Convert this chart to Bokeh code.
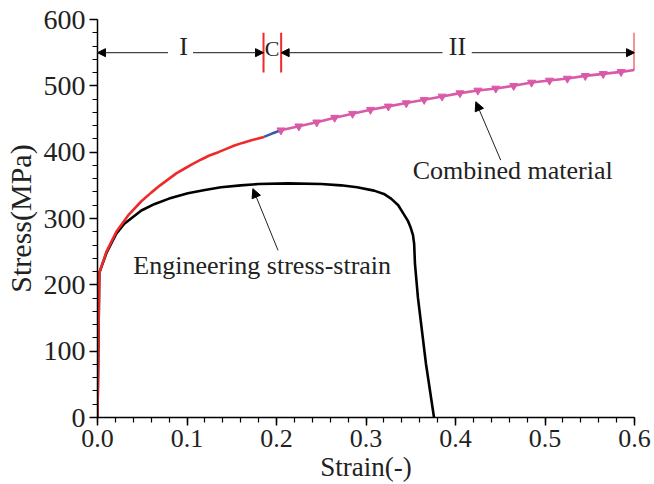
from bokeh.plotting import figure
from bokeh.models import Range1d, FixedTicker, PrintfTickFormatter, Label, Arrow, NormalHead
from bokeh.embed import file_html
from bokeh.resources import INLINE

# ---- data ----
eng_strain = [0, 0.002, 0.01, 0.021, 0.03, 0.049, 0.064, 0.08, 0.101, 0.12, 0.138, 0.16, 0.18,
              0.213, 0.25, 0.272, 0.29, 0.309, 0.32, 0.328, 0.336, 0.342, 0.347, 0.350, 0.3525,
              0.3538, 0.3547, 0.358, 0.367, 0.376]
eng_stress = [0, 218, 248, 277, 292, 312, 322, 330, 338, 343, 347, 350, 352,
              353, 352, 350, 347, 342, 337, 330, 320, 307, 296, 286, 275,
              262, 232, 181, 81, 0]

red_strain = [0, 0.002, 0.01, 0.021, 0.035, 0.049, 0.06, 0.07, 0.079, 0.088, 0.097, 0.106,
              0.116, 0.125, 0.135, 0.144, 0.153, 0.162, 0.172, 0.186]
red_stress = [0, 218, 250, 280, 306, 326, 339, 350, 359, 368, 375, 382,
              389, 395, 400, 405, 410, 414, 418, 423]

blue_strain = [0.186, 0.195, 0.205]
blue_stress = [423, 428, 433]

pink_strain = [0.205, 0.225, 0.245, 0.265, 0.285, 0.305, 0.325, 0.345, 0.365, 0.385,
               0.405, 0.425, 0.445, 0.465, 0.485, 0.505, 0.525, 0.545, 0.565, 0.585, 0.6]
pink_stress = [433, 439, 445, 452, 458, 464, 469, 474, 479, 484,
               489, 493, 496, 500, 505, 508, 511, 515, 518, 521, 524]
marker_strain = pink_strain[:-1]
marker_stress = pink_stress[:-1]

x_ticks = [0.0, 0.1, 0.2, 0.3, 0.4, 0.5, 0.6]
x_minor = [round(0.02 * i, 2) for i in range(31)]
y_ticks = [0, 100, 200, 300, 400, 500, 600]
y_minor = [20 * i for i in range(31)]

region_bounds = [0.0, 0.1855, 0.2052, 0.6]   # I | C | II boundaries
region_labels = ["I", "C", "II"]
FONT = "Liberation Serif"

p = figure(width=654, height=484, output_backend="svg", toolbar_location=None,
           x_range=Range1d(0, 0.6), y_range=Range1d(0, 600),
           min_border_left=96, min_border_right=20, min_border_top=19, min_border_bottom=67)
p.outline_line_color = None
p.xgrid.visible = False
p.ygrid.visible = False
p.background_fill_color = "white"
p.border_fill_color = "white"

p.xaxis.ticker = FixedTicker(ticks=x_ticks, minor_ticks=x_minor)
p.yaxis.ticker = FixedTicker(ticks=y_ticks, minor_ticks=y_minor)
p.xaxis.formatter = PrintfTickFormatter(format="%.1f")
p.xaxis.axis_label = "Strain(-)"
p.yaxis.axis_label = "Stress(MPa)"
for ax in (p.xaxis, p.yaxis):
    ax.axis_line_color = "black"
    ax.axis_line_width = 1.5
    ax.major_tick_line_color = "black"
    ax.minor_tick_line_color = "black"
    ax.major_tick_line_width = 1.5
    ax.minor_tick_line_width = 1.2
    ax.major_tick_out = 8
    ax.major_tick_in = 0
    ax.minor_tick_out = 5
    ax.minor_tick_in = 0
    ax.major_label_text_font = FONT
    ax.major_label_text_color = "#222222"
    ax.axis_label_text_font = FONT
    ax.axis_label_text_font_style = "normal"
    ax.axis_label_text_color = "#222222"
    ax.major_label_standoff = 4
    ax.axis_label_standoff = 2
p.xaxis.major_label_text_font_size = "26px"
p.yaxis.major_label_text_font_size = "28px"
p.xaxis.axis_label_text_font_size = "27px"
p.yaxis.axis_label_text_font_size = "30px"
p.yaxis.axis_label_standoff = 4

# curves
p.line(eng_strain, eng_stress, line_color="black", line_width=2.6)
p.line(red_strain, red_stress, line_color="#ee2a2a", line_width=2.6)
p.line(blue_strain, blue_stress, line_color="#3a5aa8", line_width=2.6)
p.line(pink_strain, pink_stress, line_color="#d95aa8", line_width=2.6)
p.scatter(marker_strain, marker_stress, marker="inverted_triangle", size=8,
          fill_color="#d95aa8", line_color="#d95aa8")

# red boundary bars
p.segment(x0=region_bounds[1:3], y0=[520, 520], x1=region_bounds[1:3], y1=[580, 580],
          line_color="#ee2a2a", line_width=2)
p.segment(x0=[region_bounds[3]], y0=[pink_stress[-1]], x1=[region_bounds[3]], y1=[580],
          line_color="#ee2a2a", line_width=2)

# region arrows
y_arr = 550
def arrow(x0, x1):
    p.add_layout(Arrow(end=NormalHead(size=8, fill_color="black", line_color="black"),
                       x_start=x0, y_start=y_arr, x_end=x1, y_end=y_arr,
                       line_color="#444444", line_width=1.2))

arrow(0.0788, region_bounds[0])
arrow(0.1067, region_bounds[1])
arrow(0.3855, region_bounds[2])
arrow(0.4182, region_bounds[3])

p.add_layout(Label(x=0.0963, y=537, text=region_labels[0], text_align="center",
                   text_font=FONT, text_font_size="26px", text_color="#222222"))
p.add_layout(Label(x=0.1952, y=537, text=region_labels[1], text_align="center",
                   text_font=FONT, text_font_size="22px", text_color="#222222"))
p.add_layout(Label(x=0.4022, y=537, text=region_labels[2], text_align="center",
                   text_font=FONT, text_font_size="26px", text_color="#222222"))

# annotations
p.add_layout(Label(x=0.184, y=208, text="Engineering stress-strain", text_align="center",
                   text_font=FONT, text_font_size="26px", text_color="#222222"))
p.add_layout(Arrow(end=NormalHead(size=9, fill_color="black", line_color="black"),
                   x_start=0.2017, y_start=252, x_end=0.1736, y_end=345,
                   line_color="#222222", line_width=1))
p.add_layout(Label(x=0.4639, y=350, text="Combined material", text_align="center",
                   text_font=FONT, text_font_size="26px", text_color="#222222"))
p.add_layout(Arrow(end=NormalHead(size=9, fill_color="black", line_color="black"),
                   x_start=0.4505, y_start=388, x_end=0.4227, y_end=476,
                   line_color="#222222", line_width=1))

open("out.html", "w").write(file_html(p, INLINE))
